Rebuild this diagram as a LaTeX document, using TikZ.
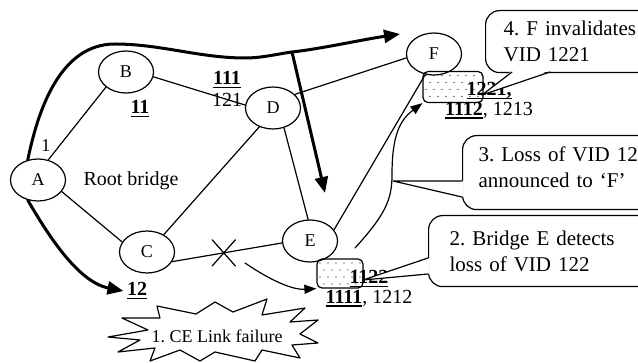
\documentclass[tikz,border=0pt]{standalone}
\usepackage{fontspec}
\setmainfont{Liberation Serif}
\frenchspacing
\usetikzlibrary{arrows.meta, positioning, shapes.geometric, shapes.misc, calc}
\newcommand{\vidul}[1]{\setbox0\hbox{\textbf{#1}}\rlap{\rule[-3.5pt]{\wd0}{1.8pt}}\box0}
\tikzset{every node/.style={font=\fontsize{20}{26}\selectfont}, every path/.style={line cap=round, line join=round}, >={Triangle[length=12pt, width=9pt]}}

\begin{document}
\begin{tikzpicture}[x=1pt, y=-1pt,
    bridge/.style={ellipse, draw, line width=1.2pt, fill=white, minimum width=55pt, minimum height=42pt, inner sep=0pt, font=\fontsize{18}{20}\selectfont},
    link/.style={line width=1.2pt},
    tree/.style={line width=3pt, -{Triangle[length=16pt, width=13pt]}},
    notice/.style={line width=1.2pt, ->},
    linkcut/.style={cross out, draw, line width=1.2pt, minimum width=22pt, minimum height=25pt, inner sep=0pt},
    stipple/.style={draw, line width=1.2pt, rounded corners=5pt, inner sep=0pt, path picture={
        \foreach \i in {0,...,8} \foreach \j in {0,...,4}
            \fill ($(path picture bounding box.north west)+({\i*8+3+mod(\j,2)*4}, {\j*7+4})$) circle (0.7pt);}},
    callout/.style={draw, fill=white, line width=1.2pt, rounded corners=14pt, anchor=north west, align=left, text width=190pt, font=\fontsize{21}{26}\selectfont}]
    \useasboundingbox (0,0) rectangle (638,363);

    % bridges
    \node[bridge] (A) at (38,180) {A};
    \node[bridge] (B) at (126,72) {B};
    \node[bridge] (D) at (273,108) {D};
    \node[bridge] (C) at (147,252) {C};
    \node[bridge] (E) at (310,241) {E};
    \node[bridge] (F) at (434,54) {F};

    % links
    \draw[link] (A.63) -- (B.217);
    \draw[link] (B.350) -- (D.174);
    \draw[link] (D.32) -- (F.188);
    \draw[link] (D.299) -- (E.95);
    \draw[link] (C.46) -- (D.234);
    \draw[link] (A.334) -- (C.158);
    \draw[link] (C.339) -- node[linkcut, pos=0.47] (cut) {} (E.184);
    \draw[link] (E.25) -- (F.247);

    % VID labels
    \node (root) at (131,181) {Root bridge};
    \node[font=\fontsize{18}{20}\selectfont] (port1) at (46,146) {1};
    \node (vid11) at (140,109) {\vidul{11}};
    \node (vid111) at (227,80) {\vidul{111}};
    \node[below=-2pt of vid111] (vid121) {121};
    \node (vid12) at (137,291) {\vidul{12}};

    \node[stipple, minimum width=60pt, minimum height=31pt] (boxF) at (453,87) {};
    \node[stipple, minimum width=46pt, minimum height=29pt] (boxE) at (340,273.5) {};
    \node (vidF) at (489,91) {\vidul{1221,}};
    \node[below=-4pt of vidF] (vidF2) {\vidul{1112}, 1213};
    \node (vidE) at (369,279) {\vidul{1122}};
    \node[below=-4pt of vidE] (vidE2) {\vidul{1111}, 1212};

    % spanning tree arrows
    \coordinate (fork) at (292,52);
    \coordinate (reach) at (400,34);
    \coordinate (drop) at (325,193);
    \draw[tree] (A.117) .. controls (38,110) and (60,44) .. (115,44) .. controls (160,44) and (200,58) .. (245,58) .. controls (262,58) and (277,54) .. (fork) .. controls (320,49) and (360,40) .. (reach);
    \draw[tree] (fork) -- (drop);
    \draw[tree] (A.243) .. controls (48,235) and (78,282) .. (vid12.west);

    % notifications
    \coordinate (cutend) at (245,263);
    \coordinate (Eout) at (355,248);
    \draw[notice] (cutend) .. controls (270,280) and (292,290) .. (boxE.south west);
    \draw[notice] (Eout) .. controls (385,215) and (392,200) .. (392,175) .. controls (392,135) and (400,120) .. (boxF.south west);

    % failure
    \draw[link, fill=white] (108,337) -- (148,330) -- (122,318) -- (160,318) -- (157,306) -- (196,314) -- (215,302) -- (233,312) -- (267,299) -- (262,315) -- (305,308) -- (290,322) -- (318,320) -- (300,334) -- (318,343) -- (292,345) -- (300,358) -- (262,350) -- (255,361) -- (215,352) -- (200,361) -- (180,350) -- (150,361) -- (155,348) -- (118,352) -- (140,340) -- cycle;
    \node[font=\fontsize{18}{20}\selectfont] (failure) at (217,336) {1. CE Link failure};

    % callouts
    \node[callout, minimum height=71pt, inner xsep=21pt] (note2) at (428,215) {2. Bridge E detects\\loss of VID 122};
    \coordinate (tip2) at (363,280);
    \fill[white] (tip2) -- ($(note2.north west)+(1.5,43)$) -- ($(note2.north west)+(1.5,59)$) -- cycle;
    \draw[link] ($(note2.north west)+(0,43)$) -- (tip2) -- ($(note2.north west)+(0,59)$);

    \node[callout, minimum height=74pt, inner xsep=16pt] (note3) at (462,135) {3. Loss of VID 122\\announced to ‘F’\rule[-10pt]{0pt}{0pt}};
    \coordinate (tip3) at (393,181);
    \fill[white] (tip3) -- ($(note3.north west)+(1.5,46)$) -- ($(note3.north west)+(1.5,62)$) -- cycle;
    \draw[link] ($(note3.north west)+(0,46)$) -- (tip3) -- ($(note3.north west)+(0,62)$);

    \node[callout, minimum height=62pt, inner xsep=18pt] (note4) at (485,10) {4. F invalidates\\VID 1221};
    \coordinate (tip4) at (482,95);
    \fill[white] (tip4) -- ($(note4.north west)+(27,60.5)$) -- ($(note4.north west)+(65,60.5)$) -- cycle;
    \draw[link] ($(note4.north west)+(27,62)$) -- (tip4) -- ($(note4.north west)+(65,62)$);
\end{tikzpicture}
\end{document}
